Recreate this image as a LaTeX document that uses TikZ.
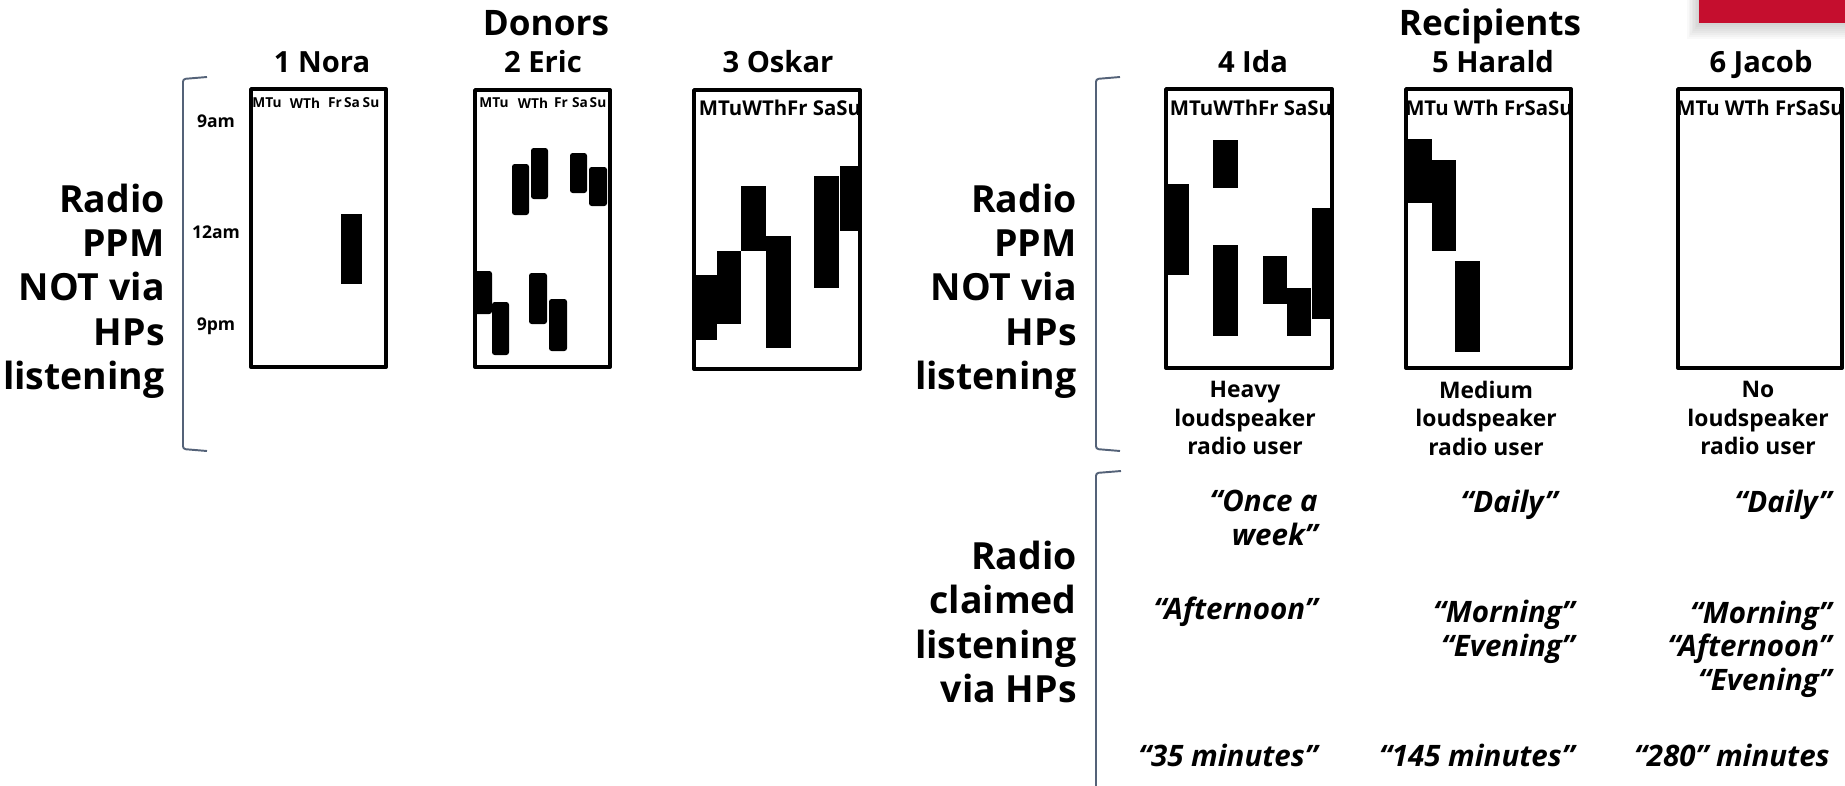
\documentclass[tikz,border=0pt]{standalone}
\usepackage{fontspec}
\setmainfont{Open Sans}
\usetikzlibrary{positioning}
\definecolor{brack}{RGB}{84,98,120}
\definecolor{ribbon}{RGB}{197,14,46}
\begin{document}
\begin{tikzpicture}[x=0.02cm,y=-0.02cm,
    diary/.style={line width=2.2pt,line join=round},
    brak/.style={brack,line width=1.1pt,rounded corners=1.5pt},
    side/.style={font=\bfseries\fontsize{21.3}{25.2}\selectfont,align=right,anchor=east,inner sep=0pt},
    group/.style={font=\bfseries\fontsize{20}{24}\selectfont,anchor=base,inner sep=0pt},
    who/.style={font=\bfseries\fontsize{16.6}{20}\selectfont,anchor=base,inner sep=0pt},
    day/.style={font=\bfseries\fontsize{7.8}{9}\selectfont,inner sep=0pt},
    bigday/.style={font=\bfseries\fontsize{11.6}{13}\selectfont,inner sep=0pt},
    hour/.style={font=\bfseries\fontsize{10}{12}\selectfont,anchor=base,inner sep=0pt},
    user/.style={font=\bfseries\fontsize{13}{16.2}\selectfont,align=center,inner sep=0pt},
    claim/.style={font=\bfseries\itshape\fontsize{16.8}{19}\selectfont,align=right,anchor=east,inner sep=0pt}]
    \useasboundingbox (0,0) rectangle (1845,785);
    % corner ribbon
    \foreach \i in {1,...,8} {
      \fill[black,opacity=0.025] (1699-1.5*\i,0) rectangle (1845,23+2*\i);
    }
    \fill[ribbon] (1699,0) rectangle (1845,23);
    % headings
    \node[group] (donors) at (546,35) {Donors};
    \node[group] (recip) at (1490,35) {Recipients};
    \node[who] (n1) at (322,72) {1 Nora};
    \node[who] (n2) at (543,72) {2 Eric};
    \node[who] (n3) at (778,72) {3 Oskar};
    \node[who] (n4) at (1253,72) {4 Ida};
    \node[who] (n5) at (1493,72) {5 Harald};
    \node[who] (n6) at (1761,72) {6 Jacob};
    % row labels and brackets
    \node[side] (ppmA) at (165,291) {Radio\\PPM\\NOT via\\HPs\\listening};
    \node[side] (ppmB) at (1077,291) {Radio\\PPM\\NOT via\\HPs\\listening};
    \node[side] (claimB) at (1077,622) {Radio\\claimed\\listening\\via HPs};
    \draw[brak] (207,77) -- (183,79) -- (183,449) -- (207,451);
    \draw[brak] (1120,77) -- (1096,79) -- (1096,449) -- (1120,451);
    \draw[brak] (1121,471) -- (1096,473) -- (1096,790);
    \node[hour] (t1) at (216,127) {9am};
    \node[hour] (t2) at (216,238) {12am};
    \node[hour] (t3) at (216,330) {9pm};
    % diary boxes
    \draw[diary] (251,89) rectangle (386,367);
    \draw[diary] (475,90) rectangle (610,367);
    \draw[diary] (694,90) rectangle (860,369);
    \draw[diary] (1166,89) rectangle (1332,368);
    \draw[diary] (1406,89) rectangle (1571,368);
    \draw[diary] (1678,89) rectangle (1842,368);
    \foreach \d/\x in {MTu/267,WTh/305,Fr/335,Sa/352,Su/371} {
      \node[day] (a\d) at (\x,103) {\d};
    }
    \foreach \d/\x in {MTu/494,WTh/533,Fr/561,Sa/580,Su/598} {
      \node[day] (b\d) at (\x,103) {\d};
    }
    \node[bigday] (c) at (780,108) {MTuWThFr SaSu};
    \node[bigday] (d) at (1251,108) {MTuWThFr SaSu};
    \node[bigday] (e) at (1489,108) {MTu WTh FrSaSu};
    \node[bigday] (f) at (1760,108) {MTu WTh FrSaSu};
    % listening blocks
    \fill (341,214) rectangle (362,284);
    \foreach \a/\b/\c/\d in {474/271/492/314,492/302/509/355,512/164/529/215,531/148/548/199,
        529/273/547/324,549/299/567/351,570/153/587/193,589/167/607/206} {
      \fill[rounded corners=1.5pt] (\a,\b) rectangle (\c,\d);
    }
    \foreach \a/\b/\c/\d in {695/275/717/340,717/251/741/324,741/186/766/251,766/236/791/348,
        814/176/839/288,840/166/862/231,
        1167/184/1189/275,1213/140/1238/188,1213/245/1238/336,1263/256/1287/304,
        1287/288/1311/336,1312/208/1332/319,
        1406/139/1432/203,1432/160/1456/251,1455/261/1480/352} {
      \fill (\a,\b) rectangle (\c,\d);
    }
    % user type
    \node[user] (u4) at (1245,418) {Heavy\\loudspeaker\\radio user};
    \node[user] (u5) at (1486,418) {Medium\\loudspeaker\\radio user};
    \node[user] (u6) at (1758,418) {No\\loudspeaker\\radio user};
    % claimed listening
    \node[claim] (q4a) at (1318,518) {“Once a\\week”};
    \node[claim] (q4b) at (1318,612) {“Afternoon”};
    \node[claim] (q4c) at (1318,755) {“35 minutes”};
    \node[claim] (q5a) at (1558,505) {“Daily”};
    \node[claim] (q5b) at (1575,632) {“Morning”\\“Evening”};
    \node[claim] (q5c) at (1575,755) {“145 minutes”};
    \node[claim] (q6a) at (1832,505) {“Daily”};
    \node[claim] (q6b) at (1832,649) {“Morning”\\“Afternoon”\\“Evening”};
    \node[claim] (q6c) at (1830,755) {“280” minutes};
  \end{tikzpicture}
\end{document}
